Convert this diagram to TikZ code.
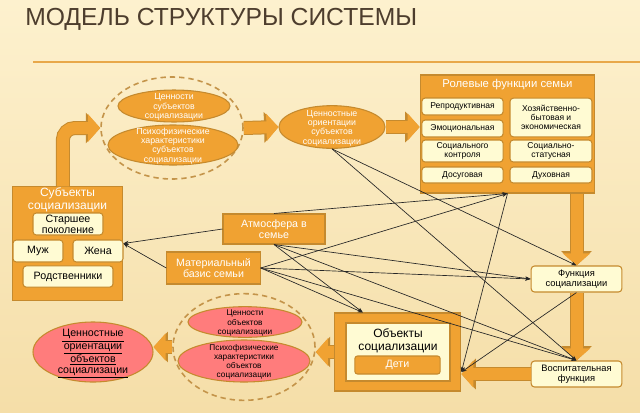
\documentclass[tikz,border=0pt]{standalone}
\usepackage{fontspec}
\setmainfont{Liberation Sans}
\usetikzlibrary{shapes.geometric,arrows.meta,positioning,calc}
\definecolor{ornge}{HTML}{F0A232}
\definecolor{edge}{HTML}{C58A2E}
\definecolor{cream}{HTML}{FFFBD3}
\definecolor{pinkfill}{HTML}{FF7C7C}
\definecolor{ringc}{HTML}{C4944A}
\definecolor{titlec}{HTML}{4D3D2D}
\definecolor{rulec}{HTML}{E8A84A}
\definecolor{bgtop}{HTML}{FDF1CE}
\definecolor{bgbot}{HTML}{F5DEA8}
\newcommand{\flatlines}[1]{\smash{\raisebox{-0.4em}{\begin{tabular}{@{}c@{}}#1\end{tabular}}}}

\begin{document}
\begin{tikzpicture}[x=0.75pt,y=-0.75pt,
    box/.style={draw=edge,fill=ornge,line width=0.8pt,text=white,align=center,inner sep=0pt},
    cell/.style={draw=edge,fill=cream,rounded corners=2.5pt,line width=0.8pt,align=center,inner sep=0pt,font=\fontsize{6.4}{7}\selectfont},
    oval/.style={ellipse,draw=edge,fill=ornge,line width=0.8pt,text=white,inner sep=0pt,font=\fontsize{6.6}{7}\selectfont},
    pinkoval/.style={oval,fill=pinkfill,text=black,font=\fontsize{6.2}{6.9}\selectfont},
    ring/.style={ellipse,draw=ringc,dash pattern=on 4pt off 3pt,line width=1.2pt,inner sep=0pt},
    bigarrow/.style={draw=ornge,line width=9pt,-{Triangle[length=9pt,width=20pt]},
        preaction={draw=edge,line width=10.5pt,-{Triangle[length=10.8pt,width=22.5pt]}}},
    link/.style={-{Stealth[length=4pt,width=3pt]},line width=0.5pt,black!85}]
\useasboundingbox (0,0) rectangle (640,412);
\shade[top color=bgtop,bottom color=bgbot] (0,0) rectangle (640,412);
\node[anchor=base west,text=titlec,font=\fontsize{18.5}{20}\selectfont,inner sep=0pt] (title) at (25,25) {МОДЕЛЬ СТРУКТУРЫ СИСТЕМЫ};
\draw[rulec,line width=0.8pt] (33,62) -- (640,62);
\draw[rulec,line width=1.5pt] (33,62) -- (275,62);

% subjects of socialisation
\node[ring,minimum width=106.5pt,minimum height=76.5pt] (subjring) at (172,128) {};
\node[oval,minimum width=84pt,minimum height=24pt] (subjvalues) at (174,106) {\flatlines{Ценности\\субъектов\\социализации}};
\node[oval,minimum width=97.5pt,minimum height=30pt] (subjpsycho) at (173,145) {\flatlines{Психофизические\\характеристики\\субъектов\\социализации}};
\node[oval,minimum width=79.5pt,minimum height=32pt] (subjorient) at (332,127) {\flatlines{Ценностные\\ориентации\\субъектов\\социализации}};

\node[box,minimum width=83pt,minimum height=85pt] (subj) at (67.5,243.5) {};
\node[text=white,align=center,font=\fontsize{9}{9.5}\selectfont,inner sep=0pt] (subjtitle) at (67.5,200) {Субъекты\\социализации};
\node[cell,font=\fontsize{8}{8}\selectfont,minimum width=52.5pt,minimum height=16.5pt] (elder) at (68,224) {Старшее\\поколение};
\node[cell,font=\fontsize{8}{8}\selectfont,minimum width=37.5pt,minimum height=16.5pt] (husband) at (38,251) {Муж};
\node[cell,font=\fontsize{8}{8}\selectfont,minimum width=37.5pt,minimum height=16.5pt] (wife) at (98,251) {Жена};
\node[cell,font=\fontsize{8}{8}\selectfont,minimum width=67.5pt,minimum height=16pt] (relatives) at (68,276.5) {Родственники};

% role functions
\node[box,minimum width=131pt,minimum height=88.5pt] (roles) at (507.5,134) {};
\node[text=white,font=\fontsize{8.5}{9}\selectfont,inner sep=0pt] (rolestitle) at (507.5,85) {Ролевые функции семьи};
\node[cell,minimum width=61pt,minimum height=12.75pt] (reprod) at (462.5,106.5) {Репродуктивная};
\node[cell,minimum width=61pt,minimum height=12.75pt] (emot) at (462.5,128.5) {Эмоциональная};
\node[cell,minimum width=61.5pt,minimum height=29pt] (econ) at (551,117.5) {Хозяйственно-\\бытовая и\\экономическая};
\node[cell,minimum width=61pt,minimum height=16.5pt] (control) at (462.5,151) {Социального\\контроля};
\node[cell,minimum width=61.5pt,minimum height=16.5pt] (status) at (551,151) {Социально-\\статусная};
\node[cell,minimum width=61pt,minimum height=12pt] (leisure) at (462.5,175) {Досуговая};
\node[cell,minimum width=61.5pt,minimum height=12pt] (spirit) at (551,175) {Духовная};

\node[box,font=\fontsize{8}{8.3}\selectfont,minimum width=76.5pt,minimum height=22.5pt] (atmo) at (274,229) {Атмосфера в\\семье};
\node[box,font=\fontsize{8}{8.3}\selectfont,minimum width=70pt,minimum height=24pt] (material) at (213.5,268) {Материальный\\базис семьи};

\node[cell,font=\fontsize{7}{7.5}\selectfont,minimum width=68pt,minimum height=19.5pt] (socfunc) at (576.5,279) {Функция\\социализации};
\node[cell,font=\fontsize{7}{7.5}\selectfont,minimum width=68pt,minimum height=19.5pt] (edufunc) at (576.5,374) {Воспитательная\\функция};

% objects of socialisation
\node[box,minimum width=95pt,minimum height=58.5pt] (objects) at (397.5,352) {};
\node[cell,rounded corners=0pt,minimum width=78pt,minimum height=43.5pt] (objinner) at (398,352) {};
\node[align=center,font=\fontsize{9}{9.5}\selectfont,inner sep=0pt] (objtitle) at (398,341) {Объекты\\социализации};
\node[box,rounded corners=2pt,font=\fontsize{8}{8}\selectfont,minimum width=64pt,minimum height=13.5pt] (children) at (397.5,365) {Дети};

\node[ring,minimum width=106.5pt,minimum height=80pt] (objring) at (244,347) {};
\node[pinkoval,minimum width=85.5pt,minimum height=23pt] (objvalues) at (245,322) {\flatlines{Ценности\\объектов\\социализации}};
\node[pinkoval,minimum width=99pt,minimum height=31.5pt] (objpsycho) at (244,361) {\flatlines{Психофизические\\характеристики\\объектов\\социализации}};
\node[pinkoval,font=\fontsize{8}{8.3}\selectfont,minimum width=90pt,minimum height=45pt] (objorient) at (93,352) {\flatlines{\underline{Ценностные}\\\underline{ориентации}\\\underline{объектов}\\\underline{социализации}}};

% thick flow
\draw[bigarrow,rounded corners=9pt] ([xshift=-3.5pt]subj.north) |- (subjring.west);
\draw[bigarrow] (subjring.east) -- (subjorient.west);
\draw[bigarrow] (subjorient.east) -- (subjorient.east -| roles.west);
\draw[bigarrow] (roles.south -| socfunc.north) -- (socfunc.north);
\draw[bigarrow] (socfunc.south) -- (edufunc.north);
\draw[bigarrow] (edufunc.west) -- (edufunc.west -| objects.east);
\draw[bigarrow] (objects.west) -- (objects.west -| objring.east);
\draw[bigarrow] (objring.west) -- (objring.west -| objorient.east);

% thin links
\draw[link] (subjorient.south) -- (socfunc.north);
\draw[link] (subjorient.south) -- (edufunc.north);
\draw[link] (atmo.west) -- (subj.east);
\draw[link] (material.west) -- (subj.east);
\draw[link] (atmo.north) -- (roles.south);
\draw[link] (material.east) -- (roles.south);
\draw[link] (atmo.south) -- (socfunc.west);
\draw[link] (material.east) -- (socfunc.west);
\draw[link] (atmo.south) -- (edufunc.north);
\draw[link] (material.east) -- (edufunc.north);
\draw[link] (atmo.south) -- ([xshift=-26pt]objects.north);
\draw[link] (material.east) -- ([xshift=-26pt]objects.north);
\draw[link] (roles.south) -- ([yshift=-15pt]objects.east);
\draw[link] (socfunc.south) -- ([yshift=-15pt]objects.east);
\end{tikzpicture}
\end{document}
